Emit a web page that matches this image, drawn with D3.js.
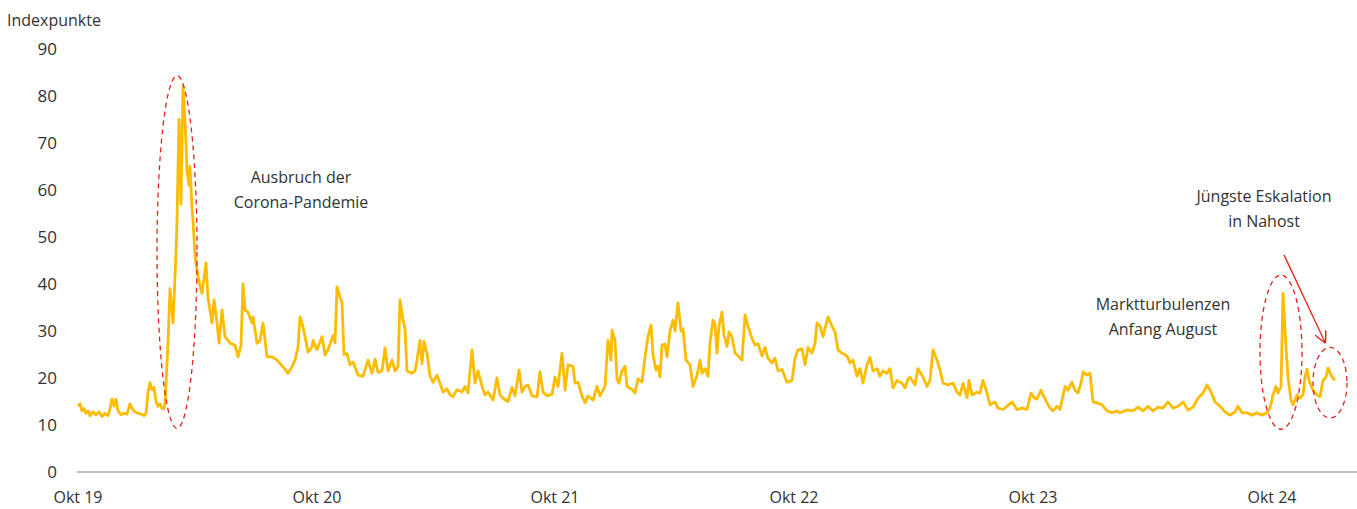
<!DOCTYPE html>
<html>
<head>
  <meta charset="utf-8">
  <script src="https://d3js.org/d3.v7.min.js"></script>
  <style>
    body { margin: 0; background: #fff; }
    text { font-family: "Open Sans", sans-serif; fill: #333; }
  </style>
</head>
<body>
  <script>
    // Handelstage seit Mitte Oktober 2019 und Indexstand
    var tage = [0, 2, 4, 6, 8, 10, 12, 15, 18, 21, 24, 27, 30, 32, 34, 36, 38, 40, 43, 46, 49, 52, 54, 57, 60, 63, 66, 68, 70, 72, 74, 76, 78, 80, 82, 84, 86, 87, 90, 92, 95, 98, 99, 101, 103, 105, 107, 109, 111, 112, 114, 115, 117, 120, 124, 128, 130, 134, 136, 139, 141, 144, 147, 152, 157, 160, 163, 165, 167, 170, 174, 175, 179, 182, 185, 189, 194, 199, 205, 210,
      214, 217, 220, 222, 225, 227, 230, 234, 235, 239, 244, 247, 250, 255, 257, 259, 262, 264, 266, 269, 272, 275, 280, 285, 290, 294, 297, 300, 304, 307, 310, 314, 317, 320, 322, 325, 327, 329, 334, 337, 339, 342, 344, 346, 349, 352, 355, 359, 362, 365, 369, 372, 375, 379, 384, 387, 390, 394, 397, 400, 404, 407, 410, 415, 419, 422,
      425, 430, 434, 437, 441, 444, 447, 450, 454, 459, 462, 465, 469, 474, 477, 480, 484, 487, 490, 495, 497, 500, 504, 507, 510, 515, 519, 522, 527, 530, 533, 534, 537, 539, 541, 544, 547, 549, 554, 557, 560, 564, 567, 570, 573, 575, 578, 580, 582, 584, 587, 589, 592, 595, 597, 600, 603, 605, 608, 612, 615, 619,
      622, 624, 627, 630, 632, 635, 637, 639, 641, 644, 646, 649, 651, 654, 657, 660, 664, 667, 670, 674, 677, 680, 684, 687, 690, 694, 697, 700, 704, 709, 714, 717, 720, 724, 727, 730, 734, 737, 739, 742, 745, 750, 754, 757, 760, 764, 769, 772, 775, 779, 782, 785, 789, 792, 795, 799, 802, 805, 809, 812, 815, 819, 824, 827, 830,
      832, 837, 840, 845, 849, 852, 855, 859, 862, 865, 870, 875, 879, 882, 885, 889, 891, 894, 899, 902, 905, 909, 912, 917, 920, 925, 929, 934, 939, 944, 949, 953, 956, 959, 963, 965, 969, 972, 975, 979, 982, 987, 990, 994, 997, 1000, 1003, 1005, 1009, 1012, 1015, 1019, 1024, 1029, 1034, 1039,
      1042, 1049, 1055, 1060, 1065, 1070, 1075, 1080, 1085, 1090, 1095, 1100, 1105, 1110, 1115, 1120, 1125, 1129, 1133, 1137, 1142, 1147, 1152, 1157, 1160, 1164, 1169, 1174, 1179, 1184, 1189, 1192, 1195, 1198, 1200, 1203, 1205, 1208, 1210, 1213, 1215, 1219, 1222, 1225, 1227, 1229, 1231, 1235, 1239, 1242, 1245, 1248, 1250, 1253, 1255, 1257];

    var werte = [14, 14.5, 13, 13.5, 12.5, 13, 12, 12.8, 12.2, 12.8, 11.8, 12.5, 12, 13.5, 15.5, 14, 15.5, 13, 12.2, 12.5, 12.3, 14.5, 13.5, 12.8, 12.5, 12.3, 12, 12.5, 17, 19, 17.5, 18, 15, 14, 14.5, 13.5, 13.5, 14.7, 27.4, 39, 31.7, 46.6, 53.6, 75, 57, 82, 75, 64, 61, 65, 56, 53.6, 46, 41.5, 38, 44.5, 37, 31.7, 36.6, 31.7, 27.4, 34.5, 28.8, 27.4, 27, 24.5, 27, 40, 34.5, 34, 31.7, 33, 27.4, 28, 31.7, 24.5, 24.5, 23.8, 22.4, 21,
      22.4, 23.8, 26.6, 33, 30.9, 28.8, 25.5, 26.6, 28, 26, 28.8, 24.9, 26, 29, 27.5, 39.4, 37.2, 36, 25, 25.2, 22.8, 23.4, 20.6, 20.4, 23.8, 21, 24, 21.2, 21.5, 26.4, 21.5, 23.8, 21.5, 22.4, 36.6, 32.3, 30.5, 21.5, 21, 21.5, 23.8, 28, 23, 27.8, 25.2, 20.4, 19.1, 20.6, 18.9, 17, 17.7, 16.4, 16, 17.5, 17, 18.2, 16.8, 26, 18.9, 21.5, 18.2, 16.4, 17, 15.3, 20, 16.4,
      15.7, 15, 18, 16.2, 21.7, 17, 18.2, 18.5, 16.2, 16, 21.3, 17, 16.2, 16.5, 20.2, 18.2, 25.3, 17.4, 22.8, 22.5, 18.9, 19.1, 16.2, 14.7, 16.2, 15.3, 18.2, 16.2, 18.2, 28, 23.8, 30.2, 28, 19.8, 18.9, 21.5, 22.5, 18.2, 17.6, 16.8, 19.8, 19.1, 24.5, 28.8, 31.3, 25, 21.7, 22.5, 20.2, 27, 27.2, 24.5, 30, 32.3, 30, 36, 30, 30.5, 23.8, 22.8, 18.2, 20.6,
      23.8, 21, 22, 20.4, 27.4, 32.3, 31.6, 25.3, 31, 34, 29.1, 26.7, 29.8, 28.8, 25.3, 24.7, 23.8, 33.4, 31, 28.4, 27, 27.3, 24.7, 26.5, 24.2, 23.2, 24.2, 21.5, 21.8, 19.1, 19.5, 24.2, 26, 26.2, 22.8, 26.5, 25.3, 27.4, 31.7, 31, 28.8, 33, 31, 29.8, 26, 25.3, 24.7, 23.2, 23.8, 20.4, 22, 18.9, 22.8, 24.4, 21.5, 22, 20.4, 21.5, 21, 22, 17.9, 19.5, 18.9, 17.9, 19.8,
      20.2, 18.5, 22, 20.2, 18.2, 19.5, 26, 23.8, 21.7, 18.9, 18.5, 18.9, 17, 16.4, 18.9, 15.8, 19.5, 16.4, 17, 16.8, 19.5, 16.8, 14.3, 14.9, 13.6, 13.3, 14, 14.9, 13.3, 13.6, 13.3, 16.8, 15.8, 15.5, 17.4, 16.4, 14.7, 13.6, 13, 14, 13.3, 18.2, 17.4, 19.1, 17.4, 16.8, 18.9, 21.3, 20.6, 21, 14.9, 14.7, 14.3, 13, 12.6, 13,
      12.6, 13.2, 13, 13.8, 13, 14, 13, 13.8, 13.6, 14.9, 13.6, 14, 14.9, 13.2, 13.8, 15.7, 16.8, 18.5, 17, 14.9, 14, 12.8, 12.1, 12.8, 14, 12.6, 12.6, 12.1, 12.6, 12.1, 12.6, 13.6, 16.4, 18.2, 16.8, 18.2, 38, 26.6, 20.2, 15.3, 14.3, 16.4, 15.7, 16.4, 20.2, 21.9, 19.5, 17.4, 16.4, 16, 19.5, 20.2, 22.1, 20.6, 20, 19.5];

    var tickTage = [0, 239, 477, 716, 955, 1194];
    var tickLabels = ["Okt 19", "Okt 20", "Okt 21", "Okt 22", "Okt 23", "Okt 24"];
    var yTicks = [0, 10, 20, 30, 40, 50, 60, 70, 80, 90];

    var width = 1357, height = 509;

    var svg = d3.select('body').append('svg')
      .attr('width', width)
      .attr('height', height);

    var x = d3.scaleLinear().domain([0, 1257]).range([78, 1335]);
    var y = d3.scaleLinear().domain([0, 90]).range([472, 49]);

    // y labels
    svg.append('g')
      .selectAll('text')
      .data(yTicks)
      .enter().append('text')
      .attr('x', 57)
      .attr('y', d => y(d))
      .attr('dy', '0.35em')
      .attr('text-anchor', 'end')
      .style('font-size', '17px')
      .text(d => d);

    svg.append('text')
      .attr('x', 7)
      .attr('y', 26)
      .style('font-size', '16px')
      .text('Indexpunkte');

    // x axis
    svg.append('line')
      .attr('x1', 77).attr('x2', width)
      .attr('y1', y(0)).attr('y2', y(0))
      .attr('stroke', '#808080')
      .attr('stroke-width', 1.2);

    svg.append('g')
      .selectAll('text')
      .data(tickTage)
      .enter().append('text')
      .attr('x', d => x(d))
      .attr('y', 503)
      .attr('text-anchor', 'middle')
      .style('font-size', '16px')
      .text((d, i) => tickLabels[i]);

    // line
    var line = d3.line()
      .x((d, i) => x(tage[i]))
      .y(d => y(d));

    svg.append('path')
      .datum(werte)
      .attr('d', line)
      .attr('fill', 'none')
      .attr('stroke', '#fcbc00')
      .attr('stroke-width', 2.8)
      .attr('stroke-linejoin', 'round');

    // annotations
    var red = '#e2231a';
    var ellipsen = [
      { t: 99, v: 46.8, rt: 20, rv: 37.5 },
      { t: 1203, v: 25.5, rt: 21, rv: 16.4 },
      { t: 1252, v: 19, rt: 17, rv: 7.5 }
    ];
    svg.append('g')
      .selectAll('ellipse')
      .data(ellipsen)
      .enter().append('ellipse')
      .attr('cx', d => x(d.t))
      .attr('cy', d => y(d.v))
      .attr('rx', d => x(d.rt) - x(0))
      .attr('ry', d => y(0) - y(d.rv))
      .attr('fill', 'none')
      .attr('stroke', red)
      .attr('stroke-width', 1.3)
      .attr('stroke-dasharray', '5,4');

    svg.append('defs').append('marker')
      .attr('id', 'pfeil')
      .attr('viewBox', '0 0 10 10')
      .attr('refX', 9).attr('refY', 5)
      .attr('markerWidth', 12).attr('markerHeight', 12)
      .attr('markerUnits', 'userSpaceOnUse')
      .attr('orient', 'auto')
      .append('path')
      .attr('d', 'M0,0 L10,5 L0,10')
      .attr('fill', 'none')
      .attr('stroke', red)
      .attr('stroke-width', 1.2);

    svg.append('line')
      .attr('x1', x(1206)).attr('y1', y(46.2))
      .attr('x2', x(1247)).attr('y2', y(27.6))
      .attr('stroke', red)
      .attr('stroke-width', 1.3)
      .attr('marker-end', 'url(#pfeil)');

    var notizen = [
      { t: 223, v: 61.5, lines: ['Ausbruch der', 'Corona-Pandemie'] },
      { t: 1186, v: 57.5, lines: ['Jüngste Eskalation', 'in Nahost'] },
      { t: 1085, v: 34.5, lines: ['Marktturbulenzen', 'Anfang August'] }
    ];
    notizen.forEach(function (n) {
      var txt = svg.append('text')
        .attr('x', x(n.t))
        .attr('y', y(n.v))
        .attr('text-anchor', 'middle')
        .style('font-size', '16px');
      n.lines.forEach(function (l, i) {
        txt.append('tspan')
          .attr('x', x(n.t))
          .attr('dy', i === 0 ? 0 : 25)
          .text(l);
      });
    });
  </script>
</body>
</html>
